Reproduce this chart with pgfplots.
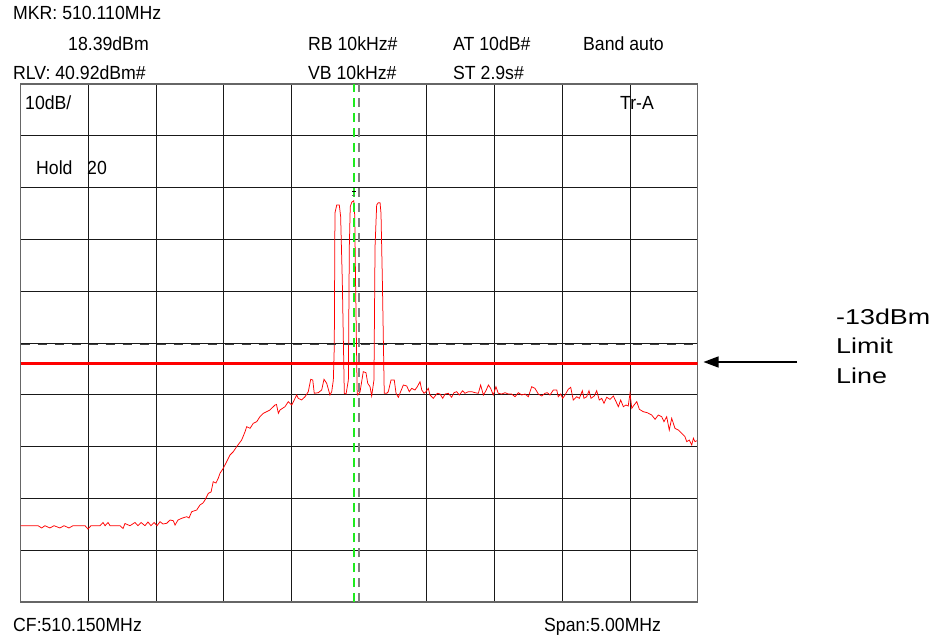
\documentclass[border=0pt]{standalone}
\usepackage{pgfplots}
\pgfplotsset{compat=1.18}
\usepackage{fontspec}
\setmainfont{Liberation Sans}
\newfontfamily\topfont[FakeStretch=0.93]{Liberation Sans}
\newfontfamily\bigfont[FakeStretch=1.25]{Liberation Sans}
\usetikzlibrary{arrows.meta}
\definecolor{mkgreen}{RGB}{30,235,30}
\definecolor{trace}{RGB}{255,0,0}
\begin{document}
\begin{tikzpicture}[x=1pt,y=1pt]
\path[use as bounding box] (-20.7,-38) rectangle (918.3,602);
\begin{axis}[
  at={(0,0)}, anchor=south west,
  width=677pt, height=518pt, scale only axis,
  xmin=507.65, xmax=512.65, ymin=-59.08, ymax=40.92,
  xtick={508.15,508.65,509.15,509.65,510.65,511.15,511.65,512.15},
  ytick={-49.08,-39.08,-29.08,-19.08,-9.08,0.92,10.92,20.92,30.92},
  xticklabels={}, yticklabels={},
  grid=major,
  major grid style={draw=black!90, line width=0.9pt},
  major tick length=0pt,
  axis line style={draw=black!60, line width=1.2pt},
  clip=true,
]
% measured trace (MHz, dBm)
\addplot[trace, line width=0.75pt] coordinates {
(507.650,-44.35) (507.719,-44.35) (507.778,-44.35) (507.805,-44.79) (507.829,-44.35)
(507.866,-44.79) (507.896,-44.35) (507.940,-44.79) (507.970,-44.35) (508.007,-44.79)
(508.036,-44.35) (508.125,-44.35) (508.147,-44.99) (508.169,-44.35) (508.236,-44.35)
(508.258,-43.73) (508.273,-44.35) (508.295,-43.73) (508.310,-44.35) (508.383,-44.35)
(508.406,-44.89) (508.420,-43.93) (508.457,-44.35) (508.494,-43.73) (508.516,-44.35)
(508.539,-43.73) (508.568,-44.35) (508.590,-43.64) (508.612,-44.35) (508.635,-43.73)
(508.657,-44.35) (508.679,-43.58) (508.701,-44.02) (508.728,-43.89) (508.753,-43.25)
(508.777,-43.39) (508.790,-44.22) (508.812,-43.25) (508.839,-42.92) (508.876,-42.61)
(508.893,-42.86) (508.913,-41.65) (508.950,-41.32) (508.974,-40.35) (508.996,-39.97)
(509.011,-39.39) (509.036,-38.10) (509.056,-37.84) (509.072,-35.86) (509.092,-36.11)
(509.109,-35.20) (509.122,-34.23) (509.146,-33.27) (509.171,-32.00) (509.196,-30.70)
(509.220,-30.07) (509.245,-29.10) (509.282,-27.81) (509.307,-26.20) (509.319,-25.24)
(509.344,-25.55) (509.368,-24.58) (509.393,-24.27) (509.417,-23.31) (509.442,-22.65)
(509.467,-22.34) (509.491,-22.01) (509.528,-21.05) (509.539,-20.95) (509.553,-22.65)
(509.565,-22.01) (509.602,-21.38) (509.626,-20.41) (509.652,-21.05) (509.676,-19.76)
(509.688,-19.12) (509.700,-19.76) (509.725,-20.08) (509.750,-19.45) (509.774,-18.48)
(509.792,-16.09) (509.807,-16.22) (509.818,-18.79) (509.848,-18.67) (509.873,-18.15)
(509.890,-16.09) (509.910,-16.86) (509.934,-19.12) (509.947,-18.48)
(509.959,-16.22) (509.966,-9.79) (509.971,16.02) (509.984,17.56) (510.003,17.56)
(510.013,15.30) (510.025,3.08) (510.040,-18.79) (510.053,-18.93)
(510.070,-16.22) (510.077,9.51) (510.084,17.23) (510.095,18.10) (510.110,18.39)
(510.117,15.50) (510.123,3.00) (510.135,-18.79) (510.140,-19.12)
(510.156,-18.54) (510.180,-14.62) (510.200,-14.81) (510.213,-16.86) (510.230,-17.52)
(510.242,-19.31)
(510.259,-16.22) (510.267,9.51) (510.279,17.56) (510.291,18.00) (510.304,18.00)
(510.311,15.96) (510.321,3.08) (510.335,-18.79)
(510.353,-18.79) (510.365,-18.48) (510.385,-16.22) (510.409,-16.22) (510.422,-18.79)
(510.439,-19.56) (510.451,-18.79) (510.476,-17.19) (510.501,-17.38) (510.520,-18.48)
(510.538,-17.83) (510.562,-18.15) (510.579,-17.52) (510.599,-16.55) (510.612,-18.15)
(510.629,-18.79) (510.643,-18.48) (510.660,-17.83) (510.673,-19.12) (510.697,-19.76)
(510.727,-18.79) (510.747,-18.93) (510.767,-19.76) (510.784,-18.93) (510.808,-18.79)
(510.833,-19.56) (510.850,-18.67) (510.870,-18.48) (510.889,-19.12) (510.914,-18.29)
(510.931,-18.79) (510.956,-18.48) (510.981,-18.48) (511.005,-18.67) (511.030,-18.79)
(511.047,-17.19) (511.067,-19.12) (511.086,-18.29) (511.104,-17.19) (511.121,-17.83)
(511.140,-19.12) (511.160,-17.52) (511.177,-18.79) (511.203,-18.93) (511.227,-18.67)
(511.251,-18.93) (511.276,-18.93) (511.301,-19.45) (511.325,-18.67) (511.350,-19.12)
(511.375,-18.93) (511.399,-19.45) (511.424,-17.52) (511.448,-17.83) (511.473,-18.93)
(511.498,-19.31) (511.522,-18.79) (511.539,-18.67) (511.559,-19.12) (511.584,-18.15)
(511.609,-18.15) (511.620,-19.45) (511.638,-18.93) (511.653,-19.76) (511.670,-19.12)
(511.694,-18.02) (511.712,-17.63) (511.731,-20.08) (511.756,-19.45) (511.776,-19.76)
(511.798,-18.29) (511.810,-19.76) (511.830,-19.45) (511.847,-18.29) (511.862,-19.76)
(511.886,-19.31) (511.904,-18.29) (511.923,-20.08) (511.941,-19.76) (511.958,-20.72)
(511.978,-19.56) (512.002,-19.95) (512.027,-19.31) (512.047,-20.41) (512.064,-21.38)
(512.081,-20.08) (512.101,-21.38) (512.120,-21.05) (512.137,-21.24) (512.150,-18.79)
(512.163,-21.69) (512.180,-21.05) (512.200,-20.41) (512.219,-21.88) (512.248,-22.34)
(512.278,-22.54) (512.310,-22.98) (512.335,-23.81) (512.359,-22.98) (512.384,-23.31)
(512.401,-24.27) (512.421,-23.31) (512.440,-25.88) (512.458,-23.62) (512.482,-25.55)
(512.507,-25.88) (512.532,-26.51) (512.556,-27.17) (512.569,-28.13) (512.588,-27.81)
(512.606,-28.77) (512.618,-27.48) (512.630,-28.13) (512.643,-27.94)
};
% display line (dashed)
\addplot[black!75, line width=0.8pt, dash pattern=on 9pt off 8pt] coordinates {(507.65,-9.27) (512.65,-9.27)};
% -13 dBm limit line
\addplot[trace, line width=2.6pt] coordinates {(507.65,-13) (512.65,-13)};
% centre frequency line
\addplot[black!50, line width=2.4pt, dash pattern=on 9pt off 6pt] coordinates {(510.15,-59.08) (510.15,40.92)};
% marker line
\addplot[mkgreen, line width=2.4pt, dash pattern=on 9pt off 6pt] coordinates {(510.110,-59.08) (510.110,40.92)};
% marker symbol
\addplot[black, line width=1.1pt] coordinates {(510.095,20.1) (510.125,20.1)};
\addplot[black!60, line width=0.8pt] coordinates {(510.100,19.4) (510.120,19.4)};
\end{axis}
\begin{scope}[every node/.style={anchor=base west, inner sep=0pt, font=\topfont\fontsize{19}{22}\selectfont}]
\node at (-7.7,582.5) {MKR: 510.110MHz};
\node at (47.3,551.5) {18.39dBm};
\node at (287.3,551.5) {RB 10kHz\#};
\node at (432.3,551.5) {AT 10dB\#};
\node at (562.3,551.5) {Band auto};
\node at (-7.7,522.5) {RLV: 40.92dBm\#};
\node at (287.3,522.5) {VB 10kHz\#};
\node at (432.3,522.5) {ST 2.9s\#};
\node at (4.3,492.5) {10dB/};
\node at (599.3,492.5) {Tr-A};
\node at (15.3,427.5) {Hold};
\node at (66.3,427.5) {20};
\node at (-7.7,-29.5) {CF:510.150MHz};
\node at (523.3,-29.5) {Span:5.00MHz};
\end{scope}
\begin{scope}[every node/.style={anchor=base west, inner sep=0pt, font=\bigfont\fontsize{21.5}{25}\selectfont}]
\node at (815.3,277) {-13dBm};
\node at (815.3,248.5) {Limit};
\node at (815.3,218.5) {Line};
\end{scope}
\draw[black, line width=1.3pt, -{Triangle[length=15pt,width=11pt]}] (776.3,240) -- (682.8,240);
\end{tikzpicture}
\end{document}
